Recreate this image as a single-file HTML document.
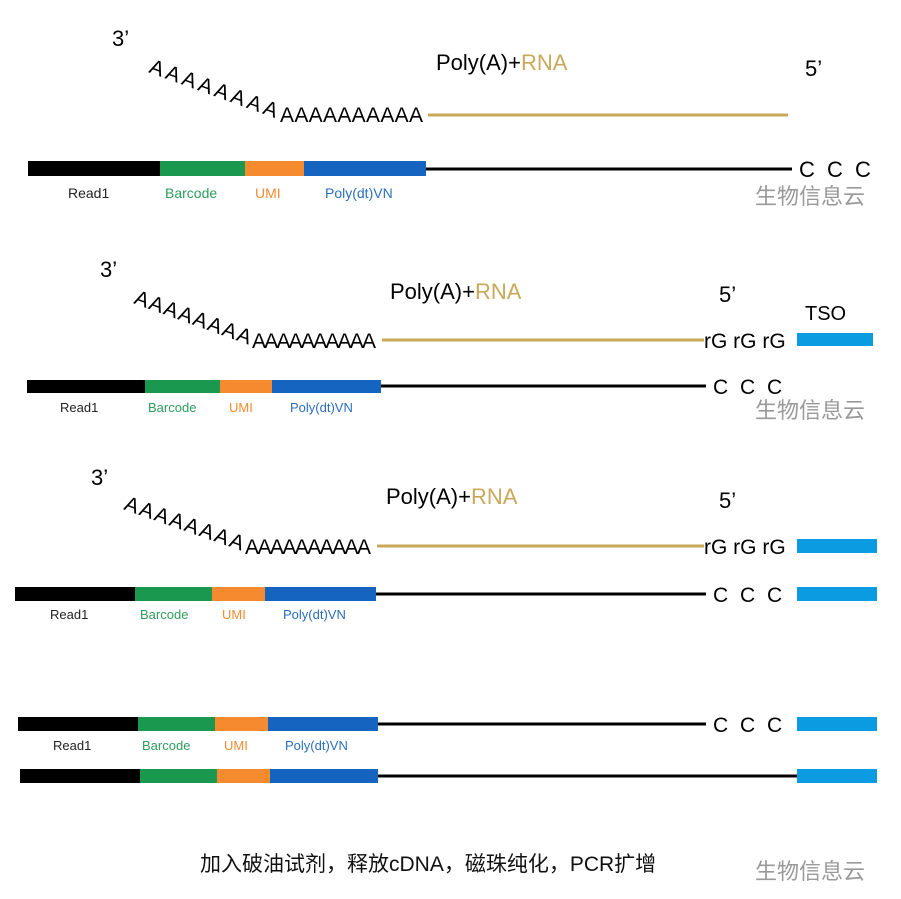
<!DOCTYPE html>
<html><head><meta charset="utf-8"><style>
html,body{margin:0;padding:0;background:#fff}
svg{display:block}
text{font-family:"Liberation Sans","Noto Sans CJK SC",sans-serif}
</style></head><body>
<svg id="s" width="901" height="899" viewBox="0 0 901 899" xmlns="http://www.w3.org/2000/svg">
<rect width="901" height="899" fill="#fff"/>
<!-- Panel 1 -->
<g>
<text x="112" y="46" font-size="22">3’</text>
<text x="436" y="70" font-size="22">Poly(A)+<tspan fill="#c8a95a">RNA</tspan></text>
<text x="805" y="76" font-size="22">5’</text>
<line x1="428" y1="115" x2="788" y2="115" stroke="#c8a95a" stroke-width="3"/>
<rect x="28" y="161" width="132" height="15" fill="#000"/>
<rect x="160" y="161" width="85" height="15" fill="#1a9850"/>
<rect x="245" y="161" width="59" height="15" fill="#f68a2e"/>
<rect x="304" y="161" width="122" height="15" fill="#1565c0"/>
<line x1="426" y1="169" x2="792" y2="169" stroke="#000" stroke-width="3"/>
<text x="799" y="177" font-size="22" letter-spacing="3">C C C</text>
<text x="68" y="198" font-size="14" fill="#222">Read1</text>
<text x="165" y="198" font-size="14" fill="#2e9d5e">Barcode</text>
<text x="255" y="198" font-size="14" fill="#f68a2e">UMI</text>
<text x="325" y="198" font-size="14" fill="#2a6fba">Poly(dt)VN</text>
<text x="755" y="204" font-size="22" fill="#999">生物信息云</text>
</g>
<!-- Panel 2 -->
<g>
<text x="100" y="277" font-size="22">3’</text>
<text x="390" y="299" font-size="22">Poly(A)+<tspan fill="#c8a95a">RNA</tspan></text>
<text x="719" y="302" font-size="22">5’</text>
<text x="805" y="320" font-size="20">TSO</text>
<line x1="382" y1="340" x2="704" y2="340" stroke="#c8a95a" stroke-width="3"/>
<text x="704" y="348" font-size="21">rG rG rG</text>
<rect x="797" y="333" width="76" height="13" fill="#0b9be0"/>
<rect x="27" y="380" width="118" height="13" fill="#000"/>
<rect x="145" y="380" width="75" height="13" fill="#1a9850"/>
<rect x="220" y="380" width="52" height="13" fill="#f68a2e"/>
<rect x="272" y="380" width="109" height="13" fill="#1565c0"/>
<line x1="381" y1="386" x2="706" y2="386" stroke="#000" stroke-width="3"/>
<text x="713" y="394" font-size="21" letter-spacing="3">C C C</text>
<text x="60" y="412" font-size="13" fill="#222">Read1</text>
<text x="148" y="412" font-size="13" fill="#2e9d5e">Barcode</text>
<text x="229" y="412" font-size="13" fill="#f68a2e">UMI</text>
<text x="290" y="412" font-size="13" fill="#2a6fba">Poly(dt)VN</text>
<text x="755" y="418" font-size="22" fill="#999">生物信息云</text>
</g>
<!-- Panel 3 -->
<g>
<text x="91" y="485" font-size="22">3’</text>
<text x="386" y="504" font-size="22">Poly(A)+<tspan fill="#c8a95a">RNA</tspan></text>
<text x="719" y="508" font-size="22">5’</text>
<line x1="377" y1="546" x2="704" y2="546" stroke="#c8a95a" stroke-width="3"/>
<text x="704" y="554" font-size="21">rG rG rG</text>
<rect x="797" y="539" width="80" height="14" fill="#0b9be0"/>
<rect x="15" y="587" width="120" height="14" fill="#000"/>
<rect x="135" y="587" width="77" height="14" fill="#1a9850"/>
<rect x="212" y="587" width="53" height="14" fill="#f68a2e"/>
<rect x="265" y="587" width="111" height="14" fill="#1565c0"/>
<line x1="376" y1="594" x2="706" y2="594" stroke="#000" stroke-width="3"/>
<text x="713" y="602" font-size="21" letter-spacing="3">C C C</text>
<rect x="797" y="587" width="80" height="14" fill="#0b9be0"/>
<text x="50" y="619" font-size="13" fill="#222">Read1</text>
<text x="140" y="619" font-size="13" fill="#2e9d5e">Barcode</text>
<text x="222" y="619" font-size="13" fill="#f68a2e">UMI</text>
<text x="283" y="619" font-size="13" fill="#2a6fba">Poly(dt)VN</text>
</g>
<!-- Panel 4 -->
<g>
<rect x="18" y="717" width="120" height="14" fill="#000"/>
<rect x="138" y="717" width="77" height="14" fill="#1a9850"/>
<rect x="215" y="717" width="53" height="14" fill="#f68a2e"/>
<rect x="268" y="717" width="110" height="14" fill="#1565c0"/>
<line x1="378" y1="724" x2="706" y2="724" stroke="#000" stroke-width="3"/>
<text x="713" y="732" font-size="21" letter-spacing="3">C C C</text>
<rect x="797" y="717" width="80" height="14" fill="#0b9be0"/>
<text x="53" y="750" font-size="13" fill="#222">Read1</text>
<text x="142" y="750" font-size="13" fill="#2e9d5e">Barcode</text>
<text x="224" y="750" font-size="13" fill="#f68a2e">UMI</text>
<text x="285" y="750" font-size="13" fill="#2a6fba">Poly(dt)VN</text>
<rect x="20" y="769" width="120" height="14" fill="#000"/>
<rect x="140" y="769" width="77" height="14" fill="#1a9850"/>
<rect x="217" y="769" width="53" height="14" fill="#f68a2e"/>
<rect x="270" y="769" width="108" height="14" fill="#1565c0"/>
<line x1="378" y1="776" x2="798" y2="776" stroke="#000" stroke-width="3"/>
<rect x="797" y="769" width="80" height="14" fill="#0b9be0"/>
<text x="200" y="871" font-size="21" fill="#111">加入破油试剂，释放cDNA，磁珠纯化，PCR扩增</text>
<text x="755" y="879" font-size="22" fill="#999">生物信息云</text>
</g>
</svg>
<script>
var tails = [
  {x0:150, y0:75, xk:280, yk:122, x1:425},
  {x0:135, y0:306, xk:252, yk:348, x1:378},
  {x0:125, y0:512, xk:245, yk:554, x1:373}
];
var svg = document.getElementById('s');
tails.forEach(function(t){
  var n1 = 8, n2 = 10;
  for (var i=0;i<n1+n2;i++){
    var x, y;
    if (i<n1){ x = t.x0 + (t.xk-t.x0)*i/n1; y = t.y0 + (t.yk-t.y0)*i/n1; }
    else { x = t.xk + (t.x1-16-t.xk)*(i-n1)/(n2-1); y = t.yk; }
    var el = document.createElementNS('http://www.w3.org/2000/svg','text');
    el.setAttribute('x', x);
    el.setAttribute('y', y);
    el.setAttribute('font-size', '21');
    if (i<n1) el.setAttribute('transform','rotate(20 '+(x+7)+' '+(y-7)+')');
    el.textContent = 'A';
    
    
    svg.appendChild(el);
  }
});
</script>
</body></html>
